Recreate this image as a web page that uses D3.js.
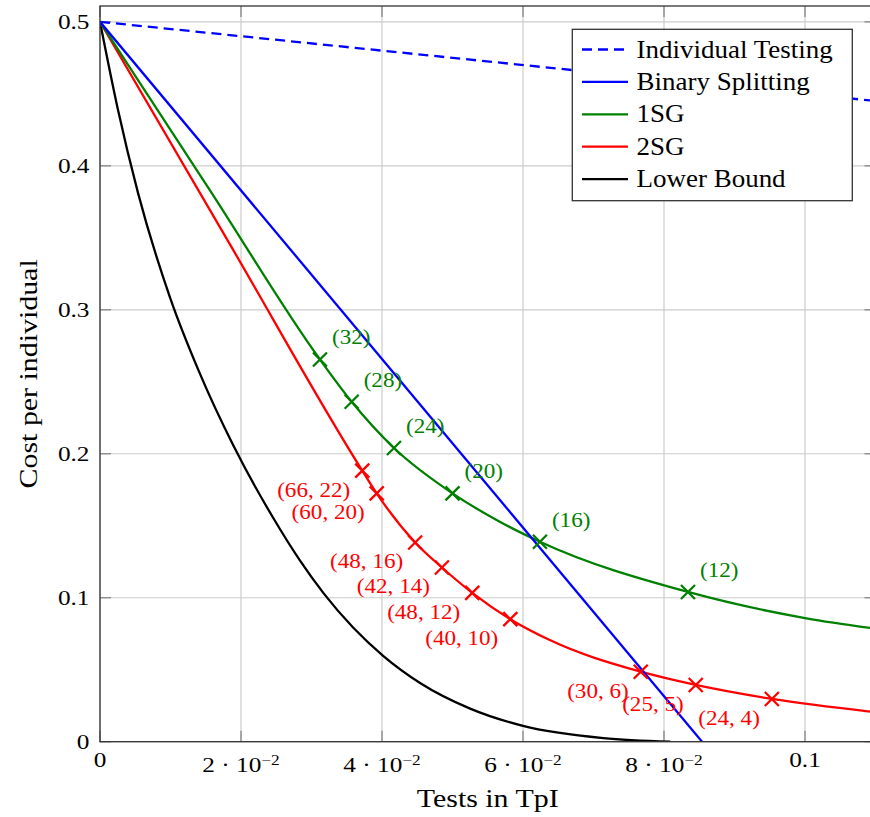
<!DOCTYPE html>
<html>
<head>
<meta charset="utf-8">
<script src="https://cdn.jsdelivr.net/npm/d3@7"></script>
<style>
  html, body { margin: 0; padding: 0; background: #fff; }
  svg { display: block; }
</style>
</head>
<body>
<svg id="chart" width="870" height="817"></svg>
<script>
// ---------------- data ----------------
const xTickVals = [0, 0.02, 0.04, 0.06, 0.08, 0.1];
const xTickMant = ["0", "2 · 10", "4 · 10", "6 · 10", "8 · 10", "0.1"];
const xTickExp  = [null, "−2", "−2", "−2", "−2", null];
const yTickVals = [0, 0.1, 0.2, 0.3, 0.4, 0.5];
const yTickLabels = ["0", "0.1", "0.2", "0.3", "0.4", "0.5"];

const seriesNames = ["Individual Testing", "Binary Splitting", "1SG", "2SG", "Lower Bound"];

// Individual Testing
const itX = [0, 0.11];
const itY = [0.5, 0.445];
// Binary Splitting
const bsX = [0, 0.0854];
const bsY = [0.5, 0.0];
// 1SG
const sgX = [0, 0.0156, 0.0312, 0.0357, 0.0417, 0.0500, 0.0567, 0.0624, 0.0834, 0.1002, 0.11];
const sgY = [0.5, 0.383, 0.2655, 0.2361, 0.2040, 0.1725, 0.1528, 0.1389, 0.1040, 0.0857, 0.0785];
const sgMarkX = [0.0312, 0.0357, 0.0417, 0.0500, 0.0624, 0.0834];
const sgMarkY = [0.2655, 0.2361, 0.2040, 0.1725, 0.1389, 0.1040];
const sgMarkLabels = ["(32)", "(28)", "(24)", "(20)", "(16)", "(12)"];
// 2SG
const tsX = [0, 0.0186, 0.0372, 0.03925, 0.0447, 0.0485, 0.0528, 0.0582, 0.0638, 0.0767, 0.0845, 0.0953, 0.11];
const tsY = [0.5, 0.344, 0.1883, 0.1725, 0.1384, 0.1210, 0.1034, 0.0851, 0.0706, 0.0486, 0.0394, 0.0297, 0.0205];
const tsMarkX = [0.0372, 0.03925, 0.0447, 0.0485, 0.0528, 0.0582, 0.0767, 0.0845, 0.0953];
const tsMarkY = [0.1883, 0.1725, 0.1384, 0.1210, 0.1034, 0.0851, 0.0486, 0.0394, 0.0297];
const tsMarkLabels = ["(66, 22)", "(60, 20)", "(48, 16)", "(42, 14)", "(48, 12)", "(40, 10)", "(30, 6)", "(25, 5)", "(24, 4)"];
// Lower Bound
const lbX = [0, 0.0025, 0.0054, 0.0099, 0.0142, 0.0189, 0.0246, 0.0284, 0.0317, 0.0359, 0.0402, 0.0454, 0.0525, 0.0600, 0.0714, 0.0809];
const lbY = [0.5, 0.440, 0.381, 0.309, 0.2553, 0.2059, 0.1552, 0.1256, 0.1032, 0.0793, 0.0595, 0.0408, 0.0230, 0.0110, 0.0025, 0.0];

// ---------------- styles ----------------
const FONT = "'Liberation Serif', 'DejaVu Serif', 'Times New Roman', serif";
const GREEN = "#008000", RED = "#ff0000", BLUE = "#0000ff", BLACK = "#000000";
const LW = 2.3;

// ---------------- layout ----------------
const svg = d3.select("#chart");
const L = 100, R = 875.5, T = 6, B = 741.7;
const x = d3.scaleLinear().domain([0, 0.11]).range([L, R]);
const y = d3.scaleLinear().domain([0, 0.511]).range([B, T]);

function txt(g, px, py, str, o) {
  return g.append("text")
    .attr("transform", `translate(${px},${py}) scale(${o.sx || 1},1)`)
    .attr("text-anchor", o.anchor || "start")
    .attr("font-family", FONT)
    .attr("font-size", o.size)
    .attr("fill", o.color || "#000")
    .text(str);
}

// clip
svg.append("defs").append("clipPath").attr("id", "clip")
  .append("rect").attr("x", L).attr("y", T).attr("width", R - L).attr("height", B - T);

// grid
const grid = svg.append("g");
xTickVals.forEach(v => {
  grid.append("line").attr("x1", x(v)).attr("x2", x(v)).attr("y1", T).attr("y2", B)
    .attr("stroke", "#cccccc").attr("stroke-width", 1.2);
});
yTickVals.forEach(v => {
  grid.append("line").attr("x1", L).attr("x2", R).attr("y1", y(v)).attr("y2", y(v))
    .attr("stroke", "#cccccc").attr("stroke-width", 1.2);
});

// ticks (inside, mirrored)
const TL = 11, TC = "#888888";
xTickVals.forEach(v => {
  grid.append("line").attr("x1", x(v)).attr("x2", x(v)).attr("y1", B).attr("y2", B - TL).attr("stroke", TC).attr("stroke-width", 1.3);
  grid.append("line").attr("x1", x(v)).attr("x2", x(v)).attr("y1", T).attr("y2", T + TL).attr("stroke", TC).attr("stroke-width", 1.3);
});
yTickVals.forEach(v => {
  grid.append("line").attr("x1", L).attr("x2", L + TL).attr("y1", y(v)).attr("y2", y(v)).attr("stroke", TC).attr("stroke-width", 1.3);
  grid.append("line").attr("x1", R - TL).attr("x2", R).attr("y1", y(v)).attr("y2", y(v)).attr("stroke", TC).attr("stroke-width", 1.3);
});

// curves
const plot = svg.append("g").attr("clip-path", "url(#clip)");
const line = d3.line().x(d => x(d[0])).y(d => y(d[1])).curve(d3.curveMonotoneX);
const zip = (a, b) => a.map((v, i) => [v, b[i]]);

plot.append("path").datum(zip(lbX, lbY)).attr("d", line).attr("fill", "none").attr("stroke", BLACK).attr("stroke-width", LW);
plot.append("path").datum(zip(tsX, tsY)).attr("d", line).attr("fill", "none").attr("stroke", RED).attr("stroke-width", LW);
plot.append("path").datum(zip(sgX, sgY)).attr("d", line).attr("fill", "none").attr("stroke", GREEN).attr("stroke-width", LW);
plot.append("path").datum(zip(bsX, bsY)).attr("d", line).attr("fill", "none").attr("stroke", BLUE).attr("stroke-width", LW);
plot.append("path").datum(zip(itX, itY)).attr("d", line).attr("fill", "none").attr("stroke", BLUE).attr("stroke-width", LW)
  .attr("stroke-dasharray", "10,6");

// markers
function cross(g, cx, cy, color, s) {
  g.append("path").attr("d", `M${cx - s},${cy - s}L${cx + s},${cy + s}M${cx - s},${cy + s}L${cx + s},${cy - s}`)
    .attr("stroke", color).attr("stroke-width", LW).attr("fill", "none");
}
const marks = svg.append("g");
sgMarkX.forEach((v, i) => cross(marks, x(v), y(sgMarkY[i]), GREEN, 7));
tsMarkX.forEach((v, i) => cross(marks, x(v), y(tsMarkY[i]), RED, 7));

// annotations
const ann = svg.append("g");
sgMarkX.forEach((v, i) => {
  txt(ann, x(v) + 12, y(sgMarkY[i]) - 21 + 6, sgMarkLabels[i], { size: 22, sx: 1.05, color: GREEN });
});
tsMarkX.forEach((v, i) => {
  txt(ann, x(v) - 12, y(tsMarkY[i]) + 20 + 6, tsMarkLabels[i], { size: 22, sx: 1.05, color: RED, anchor: "end" });
});

// frame
svg.append("rect").attr("x", L).attr("y", T).attr("width", R - L).attr("height", B - T)
  .attr("fill", "none").attr("stroke", "#333").attr("stroke-width", 1.3);

// tick labels
const tl = svg.append("g");
yTickVals.forEach((v, i) => {
  txt(tl, 89.5, y(v) + 7.5, yTickLabels[i], { size: 22, sx: 1.15, anchor: "end" });
});
xTickVals.forEach((v, i) => {
  if (xTickExp[i] === null) {
    txt(tl, x(v), 767, xTickMant[i], { size: 22, sx: 1.15, anchor: "middle" });
  } else {
    const t = txt(tl, x(v), 772, "", { size: 22, sx: 1.15, anchor: "middle" });
    t.append("tspan").text(xTickMant[i]);
    t.append("tspan").attr("dy", -7).attr("font-size", 15).text(xTickExp[i]);
  }
});

// axis labels
txt(svg, (L + R) / 2, 807, "Tests in TpI", { size: 26, sx: 1.15, anchor: "middle" });
svg.append("text")
  .attr("transform", `translate(37,${(T + B) / 2}) rotate(-90) scale(1.15,1)`)
  .attr("text-anchor", "middle").attr("font-family", FONT).attr("font-size", 26).attr("fill", "#000")
  .text("Cost per individual");

// legend
const lg = svg.append("g");
lg.append("rect").attr("x", 572.3).attr("y", 29.3).attr("width", 280).attr("height", 171.4)
  .attr("fill", "#fff").attr("stroke", "#333").attr("stroke-width", 1.3);
const legColors = [BLUE, BLUE, GREEN, RED, BLACK];
const legY0 = 49.5, legDy = 32.4;
seriesNames.forEach((name, i) => {
  const cy = legY0 + i * legDy;
  const l = lg.append("line").attr("x1", 582).attr("x2", 628).attr("y1", cy).attr("y2", cy)
    .attr("stroke", legColors[i]).attr("stroke-width", LW);
  if (i === 0) l.attr("stroke-dasharray", "10,6");
  txt(lg, 636.5, cy + 8, name, { size: 25, sx: 1.08 });
});
</script>
</body>
</html>
